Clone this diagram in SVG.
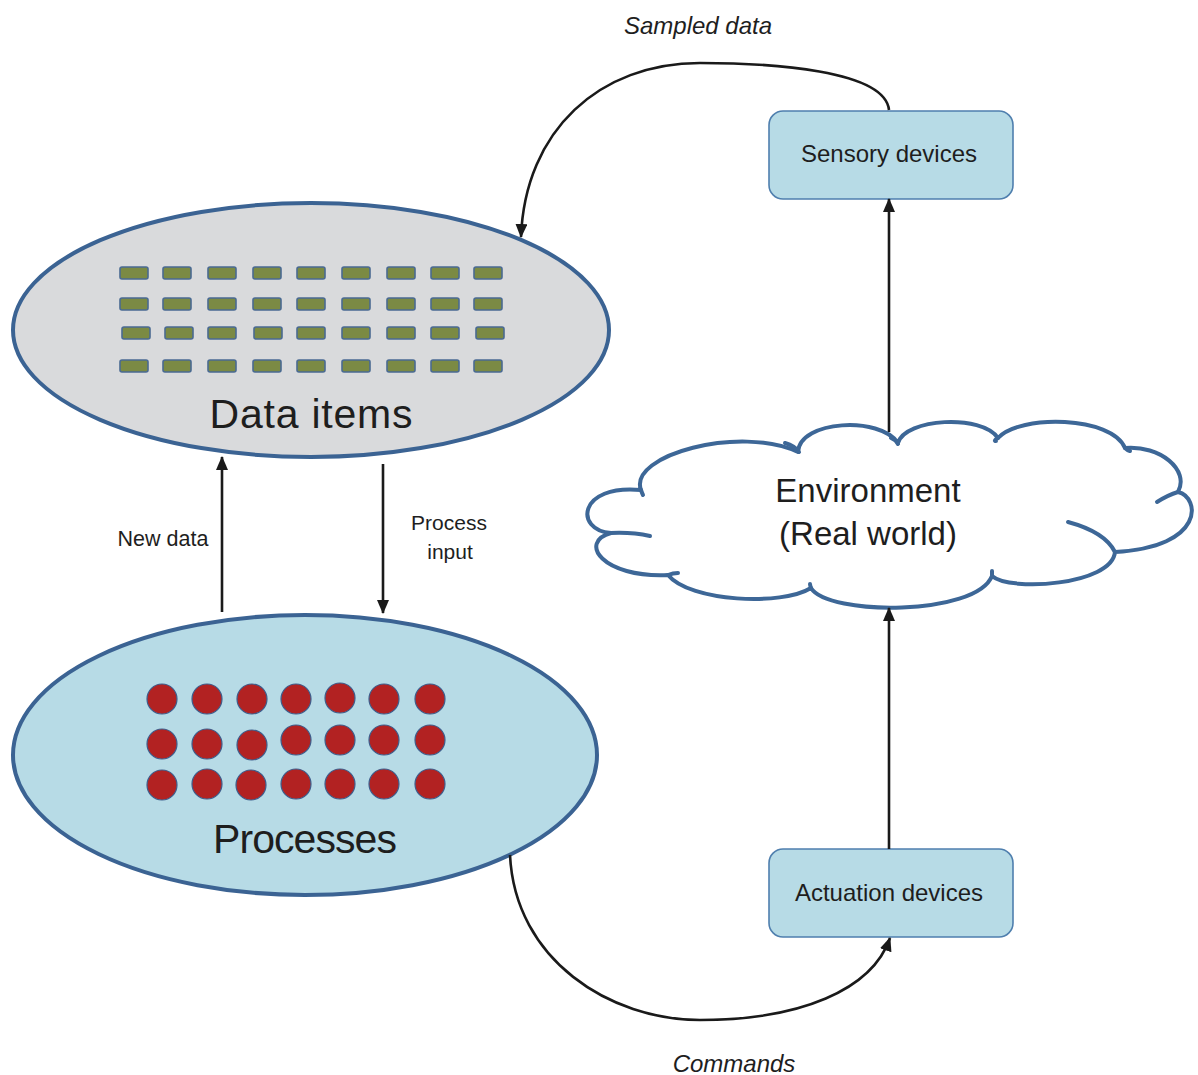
<svg xmlns="http://www.w3.org/2000/svg" xmlns:xlink="http://www.w3.org/1999/xlink" width="1198" height="1075" viewBox="0 0 1198 1075">
<style>
  .t { font-family: "Liberation Sans", Arial, sans-serif; fill: #1e1e1e; }
  .it { font-style: italic; }
  .conn { fill: none; stroke: #1a1a1a; stroke-width: 2.6; }
  .cell { fill: #7b8a44; stroke: #4a6a92; stroke-width: 1.6; }
  .dot { fill: #b22222; stroke: #3d5d8c; stroke-width: 1.2; }
  .box { fill: #b7dbe6; stroke: #4f7fae; stroke-width: 1.6; }
  .cloud { fill: #ffffff; stroke: #3d6797; stroke-width: 4; stroke-linejoin: round; stroke-linecap: round; }
  .hook { fill: none; stroke: #3d6797; stroke-width: 4; stroke-linecap: round; }
</style>
<defs>
  <marker id="arr" viewBox="0 0 14 12" refX="13" refY="6" markerWidth="14" markerHeight="12" markerUnits="userSpaceOnUse" orient="auto">
    <path d="M0,0 L14,6 L0,12 Z" fill="#1a1a1a"/>
  </marker>
  <rect id="c" class="cell" width="28" height="12" rx="2"/>
  <circle id="d" class="dot" r="15"/>
</defs>
<rect width="1198" height="1075" fill="#ffffff"/>

<g id="data-items">
  <ellipse cx="311" cy="330" rx="298" ry="127" fill="#d9dadc" stroke="#3b6393" stroke-width="4"/>
  <g>
    <use xlink:href="#c" x="120" y="267"/><use xlink:href="#c" x="163" y="267"/><use xlink:href="#c" x="208" y="267"/><use xlink:href="#c" x="253" y="267"/><use xlink:href="#c" x="297" y="267"/><use xlink:href="#c" x="342" y="267"/><use xlink:href="#c" x="387" y="267"/><use xlink:href="#c" x="431" y="267"/><use xlink:href="#c" x="474" y="267"/>
    <use xlink:href="#c" x="120" y="298"/><use xlink:href="#c" x="163" y="298"/><use xlink:href="#c" x="208" y="298"/><use xlink:href="#c" x="253" y="298"/><use xlink:href="#c" x="297" y="298"/><use xlink:href="#c" x="342" y="298"/><use xlink:href="#c" x="387" y="298"/><use xlink:href="#c" x="431" y="298"/><use xlink:href="#c" x="474" y="298"/>
    <use xlink:href="#c" x="122" y="327"/><use xlink:href="#c" x="165" y="327"/><use xlink:href="#c" x="208" y="327"/><use xlink:href="#c" x="254" y="327"/><use xlink:href="#c" x="297" y="327"/><use xlink:href="#c" x="342" y="327"/><use xlink:href="#c" x="387" y="327"/><use xlink:href="#c" x="431" y="327"/><use xlink:href="#c" x="476" y="327"/>
    <use xlink:href="#c" x="120" y="360"/><use xlink:href="#c" x="163" y="360"/><use xlink:href="#c" x="208" y="360"/><use xlink:href="#c" x="253" y="360"/><use xlink:href="#c" x="297" y="360"/><use xlink:href="#c" x="342" y="360"/><use xlink:href="#c" x="387" y="360"/><use xlink:href="#c" x="431" y="360"/><use xlink:href="#c" x="474" y="360"/>
  </g>
  <text class="t" x="311" y="428" font-size="41" text-anchor="middle" textLength="203">Data items</text>
</g>

<g id="processes">
  <ellipse cx="305" cy="755" rx="292" ry="140" fill="#b7dbe6" stroke="#3b6393" stroke-width="4"/>
  <g>
    <use xlink:href="#d" x="162" y="699"/><use xlink:href="#d" x="207" y="699"/><use xlink:href="#d" x="252" y="699"/><use xlink:href="#d" x="296" y="699"/><use xlink:href="#d" x="340" y="698"/><use xlink:href="#d" x="384" y="699"/><use xlink:href="#d" x="430" y="699"/>
    <use xlink:href="#d" x="162" y="744"/><use xlink:href="#d" x="207" y="744"/><use xlink:href="#d" x="252" y="745"/><use xlink:href="#d" x="296" y="740"/><use xlink:href="#d" x="340" y="740"/><use xlink:href="#d" x="384" y="740"/><use xlink:href="#d" x="430" y="740"/>
    <use xlink:href="#d" x="162" y="785"/><use xlink:href="#d" x="207" y="784"/><use xlink:href="#d" x="251" y="785"/><use xlink:href="#d" x="296" y="784"/><use xlink:href="#d" x="340" y="784"/><use xlink:href="#d" x="384" y="784"/><use xlink:href="#d" x="430" y="784"/>
  </g>
  <text class="t" x="305" y="853" font-size="41" text-anchor="middle" textLength="184">Processes</text>
</g>

<g id="sensory-devices">
  <rect class="box" x="769" y="111" width="244" height="88" rx="14"/>
  <text class="t" x="889" y="162" font-size="24" text-anchor="middle">Sensory devices</text>
</g>

<g id="actuation-devices">
  <rect class="box" x="769" y="849" width="244" height="88" rx="14"/>
  <text class="t" x="889" y="901" font-size="24" text-anchor="middle">Actuation devices</text>
</g>

<g id="environment">
  <path class="cloud" d="M641 490 C628 455 740 425 798 452 C800 420 880 416 898 443 C905 418 982 414 998 438 C1020 414 1112 416 1125 448 C1160 445 1190 470 1178 492 C1200 497 1206 547 1115 552 C1112 585 1010 592 992 576 C976 616 828 616 811 588 C782 606 690 602 668 575 C602 578 578 542 611 533 C574 530 578 484 641 490 Z"/>
  <path class="hook" d="M611 533 Q632 532 650 536"/>
  <path class="hook" d="M1068 522 Q1105 532 1115 552"/>
  <path class="hook" d="M1178 492 Q1168 495 1157 502"/>
  <path class="hook" d="M785 443 Q795 446 799 452"/>
  <path class="hook" d="M891 438 Q896 440 898 444"/>
  <path class="hook" d="M998 438 Q993 441 996 441"/>
  <path class="hook" d="M1125 448 Q1127 450 1130 451"/>
  <path class="hook" d="M992 576 Q992 572 992 571"/>
  <path class="hook" d="M811 588 Q810 585 810 584"/>
  <path class="hook" d="M668 575 Q673 573 678 573"/>
  <path class="hook" d="M641 490 Q642 493 643 495"/>
  <text class="t" x="868" y="502" font-size="33" text-anchor="middle">Environment</text>
  <text class="t" x="868" y="545" font-size="33" text-anchor="middle">(Real world)</text>
</g>

<g id="connectors">
  <path class="conn" d="M889 110 C885 70 770 63 700 63 C600 63 525 130 521 237" marker-end="url(#arr)"/>
  <line class="conn" x1="889" y1="432" x2="889" y2="199" marker-end="url(#arr)"/>
  <line class="conn" x1="889" y1="849" x2="889" y2="608" marker-end="url(#arr)"/>
  <path class="conn" d="M510 855 C515 960 610 1020 700 1020 C800 1020 872 990 890 938" marker-end="url(#arr)"/>
  <line class="conn" x1="222" y1="612" x2="222" y2="457" marker-end="url(#arr)"/>
  <line class="conn" x1="383" y1="464" x2="383" y2="613" marker-end="url(#arr)"/>
</g>

<g id="labels">
  <text class="t it" x="698" y="34" font-size="24" text-anchor="middle">Sampled data</text>
  <text class="t it" x="734" y="1072" font-size="24" text-anchor="middle">Commands</text>
  <text class="t" x="163" y="546" font-size="21.5" text-anchor="middle">New data</text>
  <text class="t" x="449" y="530" font-size="21" text-anchor="middle">Process</text>
  <text class="t" x="450" y="559" font-size="21" text-anchor="middle">input</text>
</g>
</svg>
